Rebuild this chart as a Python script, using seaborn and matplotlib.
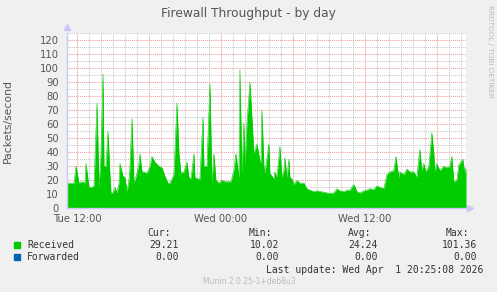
import matplotlib
matplotlib.use("Agg")
import matplotlib.pyplot as plt
import matplotlib.ticker as mticker
import seaborn as sns
import numpy as np
import pandas as pd

# ---- data (minutes relative to Tue 12:00) ----
minutes = [-50, -35, -15, -5, 10, 25, 40, 45, 60, 75, 85, 100, 110, 120, 130, 135, 145, 155,
           165, 170, 180, 190, 200, 210, 215, 230, 240, 250, 260, 265, 275, 285, 300, 310, 315,
           325, 335, 350, 365, 375, 390, 410, 425, 440, 455, 465, 485, 500, 510, 520, 535, 550,
           560, 570, 585, 590, 605, 615, 630, 635, 650, 665, 675, 685, 695, 710, 725, 740, 760,
           770, 785, 795, 810, 815, 825, 835, 840, 850, 865, 875, 885, 900, 915, 920, 925, 935,
           940, 960, 965, 985, 990, 1000, 1015, 1025, 1035, 1040, 1050, 1060, 1065, 1075, 1085,
           1100, 1115, 1135, 1150, 1165, 1185, 1200, 1215, 1235, 1250, 1265, 1285, 1300, 1315,
           1335, 1350, 1365, 1385, 1400, 1415, 1435, 1450, 1465, 1485, 1500, 1515, 1535, 1550,
           1565, 1585, 1595, 1610, 1615, 1635, 1650, 1665, 1685, 1700, 1715, 1725, 1735, 1745,
           1760, 1775, 1785, 1790, 1800, 1815, 1835, 1850, 1865, 1875, 1885, 1900, 1910, 1915,
           1930, 1940, 1946]
received = [18, 18, 18, 30, 18, 19, 18, 32, 15, 15, 16, 75, 15, 39, 96, 30, 30, 55,
            23, 11, 11, 15, 11, 18, 32, 23, 22, 12, 20, 30, 64, 18, 25, 32, 39,
            26, 26, 25, 30, 37, 33, 30, 29, 23, 18, 18, 24, 75, 39, 25, 26, 33,
            22, 21, 39, 22, 21, 21, 65, 30, 30, 89, 18, 39, 20, 18, 20, 19, 19,
            19, 27, 39, 22, 99, 25, 61, 30, 61, 90, 65, 39, 46, 34, 32, 70, 30,
            25, 46, 25, 21, 26, 22, 44, 22, 27, 36, 22, 35, 22, 21, 17,
            20, 18, 18, 14, 13, 12, 12.5, 12, 11.5, 11, 10.7, 11, 14, 12.5,
            12, 13, 13, 17, 12, 11, 12.5, 13, 14, 13.5, 16, 15, 14, 24,
            26, 27, 37, 22, 26, 24, 28, 26, 26, 22, 42, 27, 32, 26,
            30, 54, 39, 26, 32, 27, 30, 29, 30, 37, 19, 20, 31, 32,
            35, 25, 29]
forwarded = [0.0] * len(minutes)

x_tick_labels = {0: "Tue 12:00", 720: "Wed 00:00", 1440: "Wed 12:00"}
y_ticks = list(range(0, 121, 10))

legend_names = ["Received", "Forwarded"]
legend_colors = ["#00CC00", "#0066B3"]
stat_heads = ["Cur:", "Min:", "Avg:", "Max:"]
stats = [["29.21", "10.02", "24.24", "101.36"],
         ["0.00", "0.00", "0.00", "0.00"]]

df = pd.DataFrame({"minute": minutes, "received": received, "forwarded": forwarded})

# ---- figure ----
sns.set_style("white")
plt.rcParams["font.family"] = ["DejaVu Sans"]
W, H = 497, 292
fig = plt.figure(figsize=(W / 100, H / 100), dpi=100, facecolor="#F0F0F0")
ax = fig.add_axes([67 / W, (H - 208.3) / H, (466 - 67) / W, (208.3 - 33.3) / H])
ax.set_facecolor("white")

ax.fill_between(df["minute"], 0, df["received"], color="#00CC00", linewidth=0, zorder=3)
sns.lineplot(data=df, x="minute", y="received", color="#00CC00", linewidth=0.4, ax=ax, zorder=3)

ax.set_xlim(-50, 1946)
ax.set_ylim(0, 125)

ax.xaxis.set_major_locator(mticker.MultipleLocator(360))
ax.xaxis.set_minor_locator(mticker.MultipleLocator(60))
ax.xaxis.set_major_formatter(mticker.FuncFormatter(lambda v, p: x_tick_labels.get(int(round(v)), "")))
ax.yaxis.set_major_locator(mticker.FixedLocator(y_ticks))
ax.yaxis.set_minor_locator(mticker.MultipleLocator(5))

ax.set_axisbelow(True)
ax.grid(True, which="major", color="#EE9A9A", linestyle=(0, (1, 1)), linewidth=0.75)
ax.grid(True, which="minor", color="#C8C8C8", linestyle=(0, (1, 1)), linewidth=0.75)

for s in ["top", "right"]:
    ax.spines[s].set_visible(False)
for s in ["left", "bottom"]:
    ax.spines[s].set_color("#C8C8F8")
    ax.spines[s].set_linewidth(1.0)
    ax.spines[s].set_zorder(5)

ax.tick_params(axis="both", which="major", length=2, width=0.8, color="#EE9A9A",
               labelsize=7.2, labelcolor="#555555", pad=4)
ax.tick_params(axis="both", which="minor", length=2, width=0.8, color="#C8C8C8")
ax.tick_params(axis="x", which="major", pad=2)
ax.set_xlabel("")
ax.set_ylabel("Packets/second", fontsize=7.8, color="#555555", labelpad=19)

# axis arrows
ax.plot([0], [1.035], marker="^", markersize=4, color="#C8C8F8", transform=ax.transAxes, clip_on=False)
ax.plot([1.01], [0], marker=">", markersize=4, color="#C8C8F8", transform=ax.transAxes, clip_on=False)

fig.text(248 / W, 1 - 13 / H, "Firewall Throughput - by day", ha="center", va="center",
         fontsize=8.8, color="#555555")
fig.text(490 / W, 1 - 5 / H, "RRDTOOL / TOBI OETIKER", ha="center", va="top", rotation=-90,
         fontsize=5.2, color="#BBBBBB")

mono = "DejaVu Sans Mono"
ends = [171, 272, 371, 469]
val_ends = [179, 279, 378, 477]
for h, xe in zip(stat_heads, ends):
    fig.text(xe / W, 1 - 233 / H, h, ha="right", va="center", family=mono, fontsize=7, color="#333333")
rows_y = [245, 257]
for name, col, vals, yy in zip(legend_names, legend_colors, stats, rows_y):
    fig.patches.append(plt.Rectangle((14 / W, 1 - (yy + 2.5) / H), 5.5 / W, 5.5 / H,
                                     transform=fig.transFigure, color=col, figure=fig))
    fig.text(27 / W, 1 - yy / H, name, ha="left", va="center", family=mono, fontsize=7, color="#333333")
    for v, xe in zip(vals, val_ends):
        fig.text(xe / W, 1 - yy / H, v, ha="right", va="center", family=mono, fontsize=7, color="#333333")
fig.text(483 / W, 1 - 270 / H, "Last update: Wed Apr  1 20:25:08 2026", ha="right", va="center",
         family=mono, fontsize=7, color="#333333")
fig.text(249 / W, 1 - 281 / H, "Munin 2.0.25-1+deb8u3", ha="center", va="center",
         fontsize=5.5, color="#BBBBBB")

fig.savefig("out.png", dpi=100, facecolor=fig.get_facecolor())
